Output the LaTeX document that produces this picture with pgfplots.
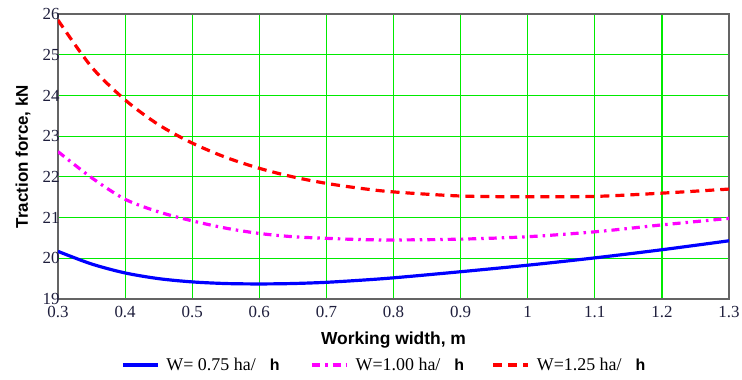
\documentclass[border=0pt]{standalone}
\usepackage{fontspec}
\setmainfont{Liberation Serif}
\setsansfont{Liberation Sans}
\usepackage{pgfplots}
\pgfplotsset{compat=1.18}
\definecolor{gridgreen}{RGB}{0,235,0}
\definecolor{frame}{RGB}{100,100,100}
\definecolor{cblue}{RGB}{0,0,255}
\definecolor{cmag}{RGB}{255,0,255}
\definecolor{cred}{RGB}{255,0,0}
\definecolor{ticktext}{RGB}{30,30,60}
\begin{document}
\begin{tikzpicture}
\useasboundingbox (-58bp,-81bp) rectangle (684bp,299bp);
\begin{axis}[
  at={(0,0)}, anchor=south west,
  scale only axis, width=671bp, height=285bp,
  xmin=0.3, xmax=1.3, ymin=19, ymax=26,
  xtick={0.3,0.4,...,1.31}, ytick={19,20,...,26},
  xticklabels={0.3,0.4,0.5,0.6,0.7,0.8,0.9,1,1.1,1.2,1.3},
  grid=major,
  major grid style={gridgreen, line width=1.2pt},
  axis line style={frame, line width=1.8pt},
  tick style={draw=none},
  /pgf/number format/assume math mode=true,
  tick label style={font=\fontsize{17}{19}\selectfont, text=ticktext},
  xticklabel style={yshift=-4bp},
  yticklabel style={xshift=5bp},
  xlabel={\sffamily\bfseries Working width, m},
  ylabel={\sffamily\bfseries Traction force, kN},
  xlabel style={font=\fontsize{17.5}{19}\selectfont, at={(axis description cs:0.5,0)}, anchor=north, yshift=-29bp},
  ylabel style={font=\fontsize{17}{19}\selectfont, at={(axis description cs:0,0.5)}, anchor=south, rotate=0, yshift=24bp},
  legend columns=3,
  legend style={at={(0.094,-0.2316)}, anchor=west, draw=none, fill=none, inner sep=0pt,
    font=\fontsize{18}{20}\selectfont,
    nodes={inner sep=0pt},
    /tikz/every odd column/.append style={column sep=7bp},
    /tikz/every even column/.append style={column sep=0bp}},
  legend image code/.code={\draw[#1] (0bp,0bp) -- (35bp,0bp);},
]
\addplot[cblue, line width=3.2pt, smooth] coordinates {
(0.3,20.17) (0.35,19.86) (0.4,19.64) (0.45,19.50) (0.5,19.42) (0.55,19.38) (0.6,19.37)
(0.65,19.38) (0.7,19.41) (0.75,19.46) (0.8,19.52) (0.9,19.67) (1.0,19.83)
(1.1,20.01) (1.2,20.21) (1.3,20.43)};
\addlegendentry{\makebox[144bp][l]{W= 0.75 ha/\hspace{14bp}{\sffamily\bfseries\fontsize{16}{18}\selectfont h}}}
\addplot[cmag, line width=3.2pt, dash pattern=on 8bp off 5bp on 2.5bp off 5bp, smooth] coordinates {
(0.3,22.62) (0.35,21.98) (0.4,21.45) (0.45,21.14) (0.5,20.92) (0.55,20.74) (0.6,20.61)
(0.65,20.53) (0.7,20.49) (0.75,20.46) (0.8,20.45) (0.9,20.47) (1.0,20.53)
(1.1,20.65) (1.2,20.82) (1.3,20.98)};
\addlegendentry{\makebox[136bp][l]{W=1.00 ha/\hspace{14bp}{\sffamily\bfseries\fontsize{16}{18}\selectfont h}}}
\addplot[cred, line width=3.2pt, dash pattern=on 9bp off 6bp, smooth] coordinates {
(0.3,25.85) (0.35,24.70) (0.4,23.89) (0.45,23.28) (0.5,22.83) (0.55,22.48) (0.6,22.21)
(0.65,22.00) (0.7,21.84) (0.75,21.72) (0.8,21.63) (0.9,21.53) (1.0,21.51)
(1.1,21.52) (1.2,21.60) (1.3,21.70)};
\addlegendentry{W=1.25 ha/\hspace{14bp}{\sffamily\bfseries\fontsize{16}{18}\selectfont h}}
\end{axis}
\end{tikzpicture}
\end{document}
